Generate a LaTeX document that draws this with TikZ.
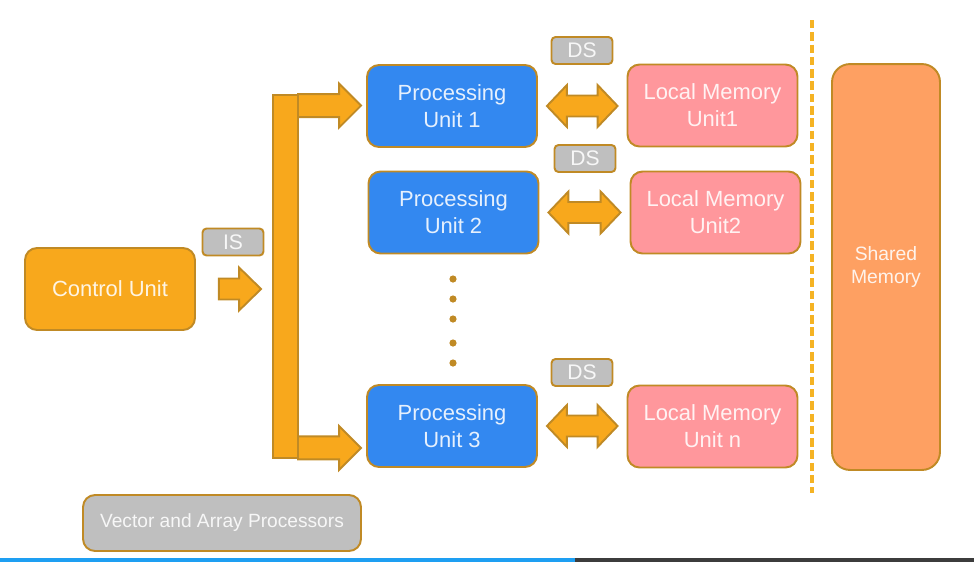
\documentclass[tikz,border=0pt]{standalone}
\usepackage{fontspec}
\setmainfont{Liberation Sans}
\usepackage{tikz}
\usetikzlibrary{calc}

\definecolor{cuorange}{HTML}{F8A81C}
\definecolor{rim}{HTML}{C08A25}
\definecolor{publue}{HTML}{3388F0}
\definecolor{lmpink}{HTML}{FF979C}
\definecolor{smorange}{HTML}{FEA062}
\definecolor{taggray}{HTML}{BFBFBF}
\definecolor{sepline}{HTML}{F5B324}
\definecolor{barblue}{HTML}{1E9FF2}
\definecolor{bargray}{HTML}{3C3C3C}

\tikzset{
  box/.style={draw=rim, line width=1.1pt, rounded corners=0.24cm, align=center,
    text=white, text opacity=0.88, inner sep=0pt,
    font=\fontsize{12.5}{15.3}\selectfont},
  unitbox/.style={box, minimum width=3.4cm, minimum height=1.64cm},
  tagbox/.style={box, fill=taggray, rounded corners=0.08cm, minimum width=1.22cm,
    minimum height=0.54cm, font=\fontsize{12}{14}\selectfont},
  fat/.style={draw=rim, line width=1.1pt, fill=cuorange, line join=miter}
}

\begin{document}
\begin{tikzpicture}[x=0.02cm,y=-0.02cm]
\useasboundingbox (0,0) rectangle (974,562);

% control unit and instruction stream
\node[unitbox, fill=cuorange] (cu) at (110,289) {Control Unit};
\node[tagbox] (is) at (233,242) {IS};
\node[fat, minimum width=0.5cm, minimum height=7.26cm, inner sep=0pt] (bus) at (285.5,276.5) {};

% processing units, local memories, data streams
\node[unitbox, fill=publue] (pu1) at (452,106) {Processing\\Unit 1};
\node[unitbox, fill=publue] (pu2) at (453.5,212.5) {Processing\\Unit 2};
\node[unitbox, fill=publue] (pu3) at (452,426) {Processing\\Unit 3};
\node[unitbox, fill=lmpink] (lm1) at (712.5,105.5) {Local Memory\\Unit1};
\node[unitbox, fill=lmpink] (lm2) at (715.5,212.5) {Local Memory\\Unit2};
\node[unitbox, fill=lmpink] (lm3) at (712.5,426.5) {Local Memory\\Unit n};
\node[tagbox] (ds1) at (582,50.5) {DS};
\node[tagbox] (ds2) at (585,158.5) {DS};
\node[tagbox] (ds3) at (582,372.5) {DS};

\node[box, fill=smorange, rounded corners=0.36cm, minimum width=2.16cm,
  minimum height=8.12cm, font=\fontsize{11}{13.6}\selectfont] (sm) at (886,267) {Shared\\Memory};
\node[box, fill=taggray, minimum width=5.56cm, minimum height=1.12cm,
  font=\fontsize{10.9}{13}\selectfont] (vap) at (222,523) {Vector and Array Processors};

% block arrows
\draw[fat] let \p1=($(cu.east)+(23,0)$), \p2=($(bus.west)+(-11,0)$) in
  (\x1,\y1+0.21cm) -- (\x2-0.44cm,\y1+0.21cm) -- (\x2-0.44cm,\y1+0.43cm) -- (\x2,\y1)
  -- (\x2-0.44cm,\y1-0.43cm) -- (\x2-0.44cm,\y1-0.21cm) -- (\x1,\y1-0.21cm) -- cycle;
\draw[fat] let \p1=($(bus.north east)+(-1,11.5)$), \p2=($(pu1.west)+(-5,0)$) in
  (\x1,\y1+0.23cm) -- (\x2-0.44cm,\y1+0.23cm) -- (\x2-0.44cm,\y1+0.44cm) -- (\x2,\y1)
  -- (\x2-0.44cm,\y1-0.44cm) -- (\x2-0.44cm,\y1-0.23cm) -- (\x1,\y1-0.23cm) -- cycle;
\draw[fat] let \p1=($(bus.south east)+(-1,-11)$), \p2=($(pu3.west)+(-5,0)$) in
  (\x1,\y1+0.23cm) -- (\x2-0.44cm,\y1+0.23cm) -- (\x2-0.44cm,\y1+0.44cm) -- (\x2,\y1)
  -- (\x2-0.44cm,\y1-0.44cm) -- (\x2-0.44cm,\y1-0.23cm) -- (\x1,\y1-0.23cm) -- cycle;
\foreach \i in {1,2,3}
  \draw[fat] let \p1=($(pu\i.east)+(9,0)$), \p2=($(lm\i.west)+(-9,0)$) in
    (\p1) -- (\x1+0.4cm,\y1+0.42cm) -- (\x1+0.4cm,\y1+0.21cm) -- (\x2-0.4cm,\y1+0.21cm)
    -- (\x2-0.4cm,\y1+0.42cm) -- (\x2,\y1) -- (\x2-0.4cm,\y1-0.42cm) -- (\x2-0.4cm,\y1-0.21cm)
    -- (\x1+0.4cm,\y1-0.21cm) -- (\x1+0.4cm,\y1-0.42cm) -- cycle;

% dots between unit 2 and unit 3
\foreach \y in {279,299,319,343,363}
  \fill[rim] (453,\y) circle (3.6);

% separator
\draw[sepline, line width=1.8pt, dash pattern=on 4.8pt off 2.2pt] (812,20) -- (812,493);

% bottom strip
\fill[barblue] (0,558) rectangle (575,562);
\fill[bargray] (575,558) rectangle (974,562);
\end{tikzpicture}
\end{document}
